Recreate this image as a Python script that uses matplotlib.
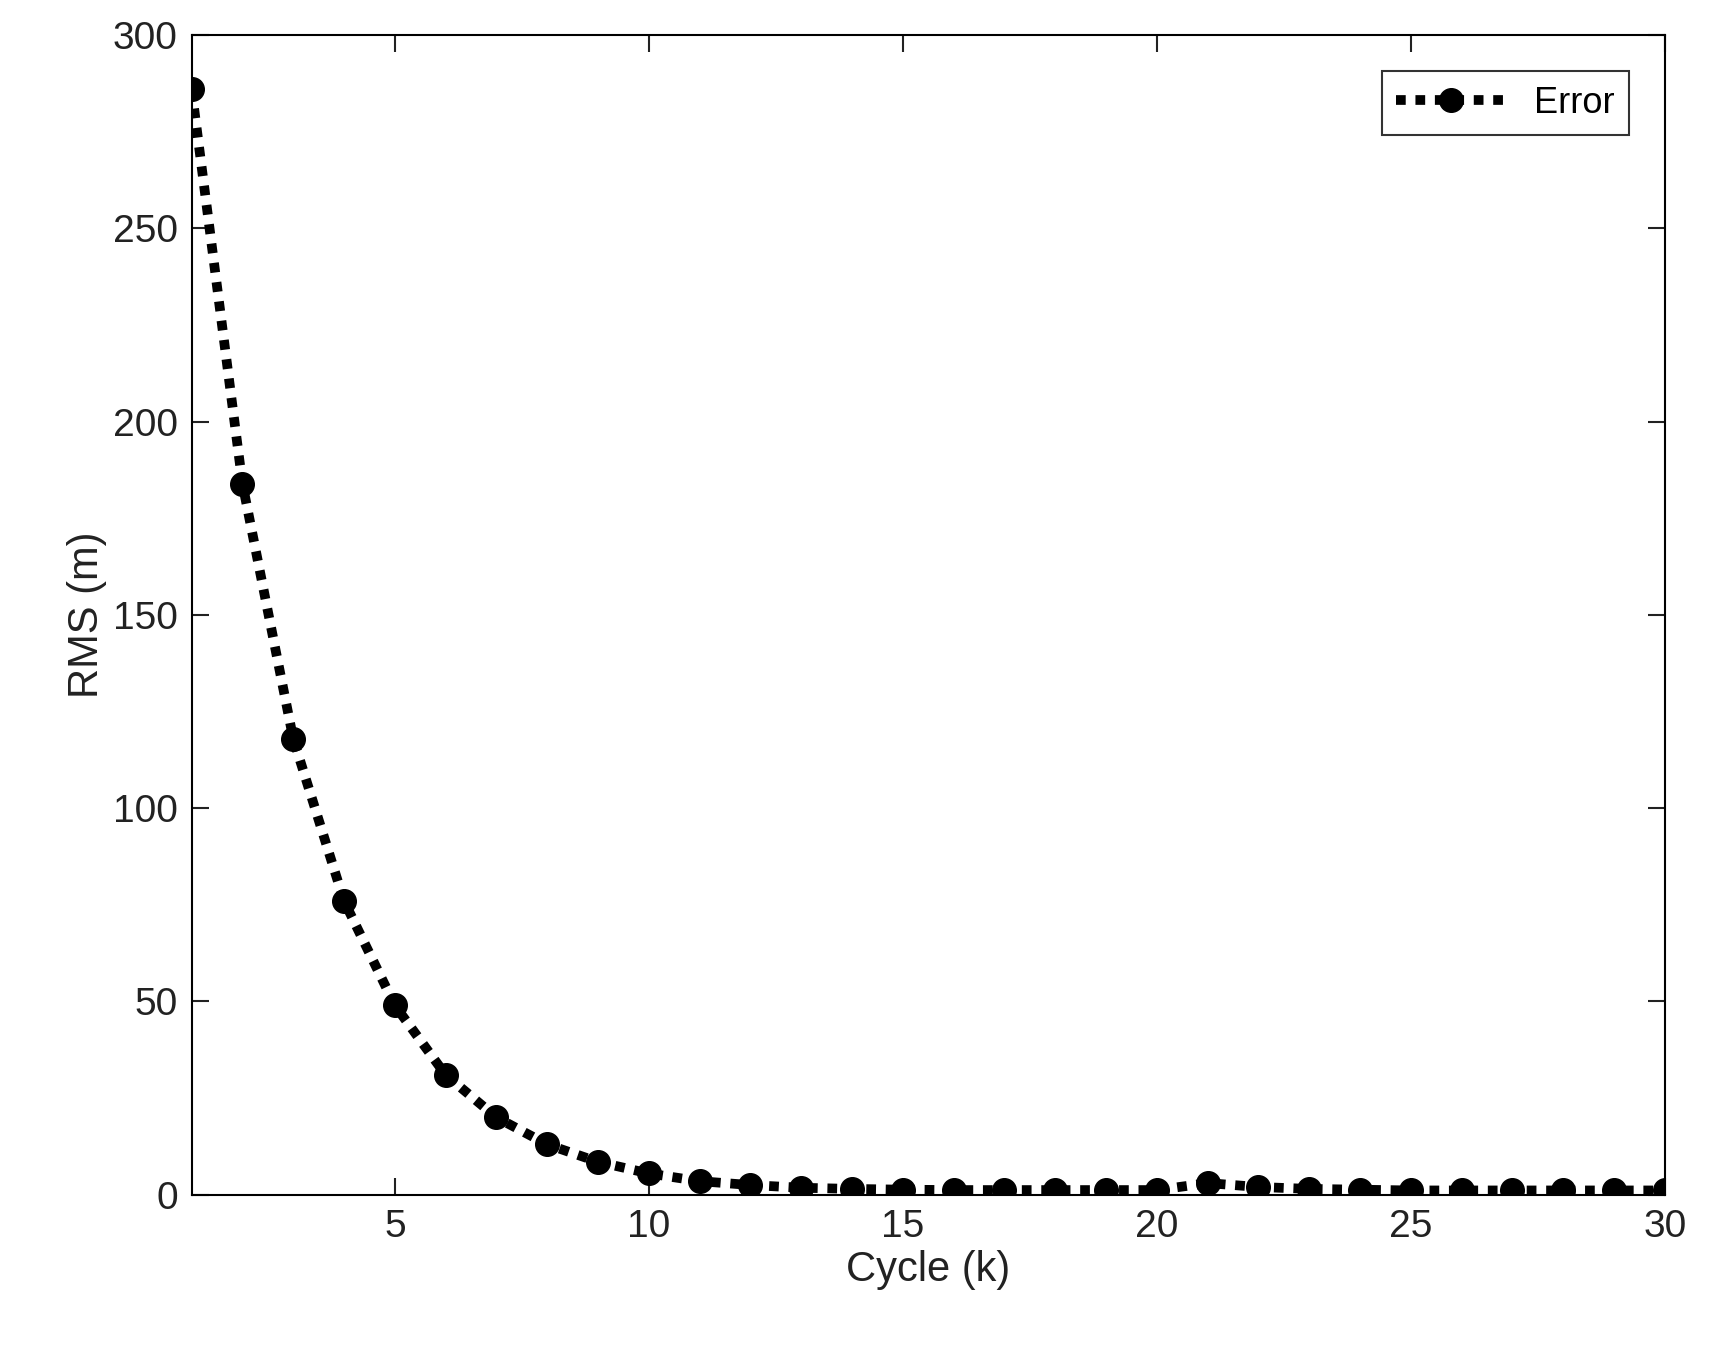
import matplotlib
matplotlib.use("Agg")
import matplotlib.pyplot as plt

cycles = list(range(1, 31))
rms = [286, 184, 118, 76, 49, 31, 20, 13, 8.5, 5.5, 3.5, 2.5, 1.8, 1.5, 1.3,
       1.2, 1.2, 1.2, 1.2, 1.2, 3.0, 2.0, 1.5, 1.3, 1.1, 1.1, 1.1, 1.1, 1.1, 1.1]
xticks = [5, 10, 15, 20, 25, 30]
yticks = [0, 50, 100, 150, 200, 250, 300]

plt.rcParams['font.family'] = ['Liberation Sans', 'DejaVu Sans']
fig = plt.figure(figsize=(17.11, 13.53), dpi=100)
ax = fig.add_axes([0.112, 0.117, 0.861, 0.857])
ax.plot(cycles, rms, color='black', linestyle=(0, (1, 1)), linewidth=7,
        marker='o', markersize=17, label='Error')
ax.set_xlim(1, 30)
ax.set_ylim(0, 300)
ax.set_xticks(xticks)
ax.set_yticks(yticks)
ax.tick_params(direction='in', length=12, width=1.5, top=True, right=True,
               labelsize=28, colors='#222222', pad=10)
for s in ax.spines.values():
    s.set_linewidth(1.5)
ax.set_xlabel('Cycle (k)', fontsize=30, color='#222222')
ax.set_ylabel('RMS (m)', fontsize=30, color='#222222')
leg = ax.legend(loc='upper right', fontsize=26, fancybox=False, edgecolor='black',
                handlelength=3, borderaxespad=1.0)
leg.get_frame().set_linewidth(1.5)
fig.savefig('out.png', dpi=100)
